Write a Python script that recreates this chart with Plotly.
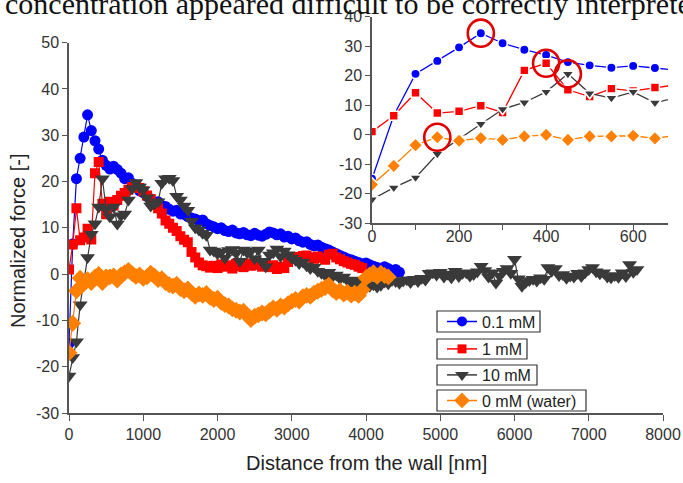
import plotly.graph_objects as go

# ---------------- data ----------------
STEP_NM = 50  # sampling step of the force profiles [nm]

series_names = ["0.1 mM", "1 mM", "10 mM", "0 mM (water)"]

force_01mM = [
    -15, 6.5, 20.6, 25, 29.6, 34.4, 31, 28.8, 27, 24.6,
    23.5, 22.7, 23.3, 22.6, 21.8, 20.6, 20.8, 19.6, 19.2, 18.0,
    17.6, 16.8, 16.3, 15.5, 15.6, 14.8, 14.6, 14.0, 13.6, 13.8,
    13.0, 12.9, 12.4, 12.1, 11.9, 11.5, 11.7, 10.9, 10.5, 10.2,
    9.8, 10.0, 9.4, 9.2, 9.5, 8.9, 8.7, 9.0, 8.5, 8.3,
    8.8, 8.4, 8.2, 8.6, 9.1, 8.9, 8.5, 8.7, 8.0, 8.2,
    7.6, 7.8, 7.2, 6.9, 7.0, 6.4, 6.1, 6.3, 5.8, 5.5,
    5.2, 4.8, 4.4, 4.0, 3.7, 3.3, 3.1, 2.8, 2.5, 2.2,
    2.4, 2.0, 1.7, 1.4, 1.1, 1.6, 1.2, 0.8, 1.0, 0.4,
]

force_1mM = [
    1, 6.4, 14.2, 7.3, 7.9, 9.8, 7.5, 21.8, 24.2, 15.2,
    12.9, 15.6, 14.8, 16.0, 16.9, 17.5, 18.2, 18.8, 19.3, 18.6,
    17.9, 17.0, 16.2, 15.0, 14.2, 13.1, 11.6, 10.9, 10.0, 9.3,
    8.2, 7.4, 6.9, 4.8, 3.6, 2.5, 1.9, 1.7, 1.4, 1.8,
    1.3, 2.1, 1.6, 1.9, 1.2, 2.2, 1.7, 1.5, 2.3, 1.8,
    2.0, 2.4, 1.6, 2.1, 1.5, 1.9, 1.1, 1.6, 1.3, 2.6,
    3.4, 3.7, 3.2, 3.9, 4.0, 3.6, 3.3, 3.8, 3.5, 3.1,
    4.2, 4.4, 3.6, 3.2, 2.8, 2.5, 2.2, 2.0, 1.6, 1.3,
]

force_10mM = [
    -22, -18, -14.6, -6.6, -1.5, 3.6, 8.6, 10.9, 14.5, 20.6,
    14.0, 12.4, 14.5, 10.8, 12.6, 13.0, 16.0, 18.5, 19.8, 18.8,
    18.2, 16.5, 14.7, 15.2, 15.6, 19.6, 20.6, 20.7, 20.2, 16.8,
    16.0, 14.7, 13.8, 11.4, 10.0, 9.5, 8.8, 8.4, 5.2, 5.0,
    4.4, 4.8, 3.5, 5.1, 5.3, 4.5, 2.8, 5.2, 4.6, 5.0,
    3.3, 5.2, 2.8, 1.6, 4.1, 4.6, 5.4, 3.8, 5.0, 4.2,
    3.5, 3.0, 2.3, 2.6, 1.8, 1.2, 1.5, 0.6, 0.2, -0.3,
    0.4, -0.5, -0.2, -1.0, -0.6, -1.4, -1.8, -1.3, -2.2, -2.5,
    -1.9, -2.6, -2.3, -2.8, -2.4, -1.7, -2.1, -1.4, -1.6, -2.0,
    -1.5, -1.2, -1.8, -1.1, -1.6, -0.9, -1.3, 0.2, 0.3, -0.2,
    0.4, -0.6, 0.0, -0.8, 0.6, -0.5, 0.2, 0.3, -0.4, -0.1,
    0.5, 1.7, 0.8, -0.6, 0.3, -1.9, -0.4, 0.6, 1.2, 0.2,
    3.2, -1.0, -2.6, -1.8, -1.4, -1.1, -1.5, -0.8, -1.1, 1.4,
    0.6, 1.2, -0.3, -0.1, -0.9, -0.4, -0.6, 0.2, -0.5, 0.3,
    1.0, 1.4, 0.5, 0.1, 0.3, -0.6, -0.8, -0.3, -0.7, 0.3,
    -0.5, 2.1, 0.4, 1.0,
]

force_water = [
    -17, -10.6, -3.6, -0.9, -2.1, -1.2, -1.8, -0.6, -0.1, -1.8,
    -0.6, -0.6, -0.4, -1.3, -0.2, 0.3, 0.8, 0.1, -0.5, -0.2,
    -0.9, -0.6, 0.2, -0.4, -1.2, -1.0, -1.8, -2.3, -2.6, -2.2,
    -3.1, -3.6, -3.2, -4.1, -4.8, -4.3, -4.6, -4.2, -5.0, -5.5,
    -5.2, -6.1, -6.6, -6.9, -7.5, -7.8, -8.2, -8.0, -8.9, -9.8,
    -9.1, -8.8, -8.4, -8.6, -7.9, -7.3, -7.6, -6.9, -7.1, -6.4,
    -5.9, -5.5, -5.8, -4.9, -4.6, -4.8, -4.1, -3.7, -3.3, -2.9,
    -2.4, -3.4, -4.0, -3.6, -4.3, -3.9, -4.5, -4.1, -4.6, -3.4,
    -0.8, -0.2, 0.3, -0.5, 0.2, -0.3, -0.6,
]

series_values = [force_01mM, force_1mM, force_10mM, force_water]

# highlighted (circled) points in the inset: (series index, distance nm)
highlight_points = [(0, 250), (1, 400), (2, 450), (3, 150)]

main_x_ticks = [0, 1000, 2000, 3000, 4000, 5000, 6000, 7000, 8000]
main_y_ticks = [-30, -20, -10, 0, 10, 20, 30, 40, 50]
inset_x_ticks = [0, 100, 200, 300, 400, 500, 600]
inset_x_labels = ["0", "", "200", "", "400", "", "600"]
inset_y_ticks = [-30, -20, -10, 0, 10, 20, 30, 40]
INSET_LAST_NM = 700

top_text = "concentration appeared difficult to be correctly interpreted"

# ---------------- style ----------------
colors = ["#0000ff", "#ff0000", "#3a3a3a", "#ff8000"]
symbols = ["circle", "square", "triangle-down", "diamond"]
main_sizes = [11, 10, 13, 13]
inset_sizes = [9.5, 9, 11, 11]
legend_sizes = [10, 9, 12, 12]
FONT = "Liberation Sans, Arial, sans-serif"
AXC = "#555555"
TXC = "#333333"

W, H = 683, 483
ML, MR, MT, MB = 69, 15, 16, 70
PW, PH = W - ML - MR, H - MT - MB


def px_x(px):
    return (px - ML) / PW


def px_y(py):
    return (H - MB - py) / PH


def dist(vals):
    return [i * STEP_NM for i in range(len(vals))]


fig = go.Figure()

# main traces
for name, vals, c, s, sz in zip(series_names, series_values, colors, symbols, main_sizes):
    fig.add_trace(go.Scatter(
        x=dist(vals), y=vals, mode="lines+markers", name=name,
        line=dict(color=c, width=1.2),
        marker=dict(symbol=s, size=sz, color=c, line=dict(width=0)),
        showlegend=False, xaxis="x", yaxis="y"))

# inset traces
for name, vals, c, s, sz in zip(series_names, series_values, colors, symbols, inset_sizes):
    d = dist(vals)
    n = sum(1 for v in d if v <= INSET_LAST_NM)
    fig.add_trace(go.Scatter(
        x=d[:n], y=vals[:n], mode="lines+markers", name=name,
        line=dict(color=c, width=1.3),
        marker=dict(symbol=s, size=sz, color=c, line=dict(width=1.6, color="white")),
        showlegend=False, xaxis="x2", yaxis="y2"))

# legend entries (one legend per series, each in its own frame)
legend_centers_px = [321.5, 349, 375, 400.5]
legend_frames_px = [(437, 540, 311, 332), (437, 527, 339, 359),
                    (437, 537, 365, 385), (437, 586, 390, 411)]
for i, (name, c, s, sz) in enumerate(zip(series_names, colors, symbols, legend_sizes)):
    lg = "legend" if i == 0 else f"legend{i+1}"
    fig.add_trace(go.Scatter(
        x=[None], y=[None], mode="lines+markers", name=name,
        line=dict(color=c, width=1.5),
        marker=dict(symbol=s, size=sz, color=c),
        showlegend=True, legend=lg, xaxis="x", yaxis="y"))

legend_common = dict(
    xanchor="left", yanchor="top", bgcolor="rgba(0,0,0,0)",
    borderwidth=0,
    font=dict(family=FONT, size=16, color="#222222"),
    tracegroupgap=0, itemwidth=30,
)
legend_layout = {}
for i, cy in enumerate(legend_centers_px):
    key = "legend" if i == 0 else f"legend{i+1}"
    legend_layout[key] = dict(x=px_x(442), y=px_y(cy - 17), **legend_common)

shapes = []
for (x0, x1, y0, y1) in legend_frames_px:
    shapes.append(dict(type="rect", xref="paper", yref="paper",
                       x0=px_x(x0), x1=px_x(x1), y0=px_y(y1), y1=px_y(y0),
                       fillcolor="white", line=dict(color="#333333", width=1.2),
                       layer="above"))

# highlight circles
RX_NM, RY_U = 30, 4.6
for si, xnm in highlight_points:
    yv = series_values[si][xnm // STEP_NM]
    shapes.append(dict(type="circle", xref="x2", yref="y2",
                       x0=xnm - RX_NM, x1=xnm + RX_NM, y0=yv - RY_U, y1=yv + RY_U,
                       line=dict(color="#e00000", width=2.6)))

axis_common = dict(showgrid=False, zeroline=False, showline=True, linecolor=AXC,
                   linewidth=1.5, ticks="outside", tickcolor=AXC, tickwidth=1.3,
                   automargin=False,
                   tickfont=dict(family=FONT, size=16, color=TXC))

fig.update_layout(
    width=W, height=H,
    autosize=False,
    margin=dict(l=ML, r=MR, t=MT, b=MB, autoexpand=False),
    paper_bgcolor="white", plot_bgcolor="rgba(0,0,0,0)",
    font=dict(family=FONT, color=TXC),
    xaxis=dict(domain=[0, px_x(663)], range=[0, 8000], tickvals=main_x_ticks,
               ticktext=[str(v) for v in main_x_ticks],
               ticklen=6, anchor="y", **axis_common),
    yaxis=dict(domain=[0, px_y(42.6)], range=[-30, 50], tickvals=main_y_ticks,
               ticktext=[str(v) for v in main_y_ticks],
               ticklen=5, anchor="x", **axis_common),
    xaxis2=dict(domain=[px_x(372), 1.0], range=[0, 680], tickvals=inset_x_ticks,
                ticktext=inset_x_labels, ticklen=5, anchor="y2",
                ticklabelstandoff=-7, **axis_common),
    yaxis2=dict(domain=[px_y(223), px_y(16.7)], range=[-30, 40], tickvals=inset_y_ticks,
                ticktext=[str(v) for v in inset_y_ticks],
                ticklen=5, anchor="x2", **axis_common),
    shapes=shapes,
    annotations=[
        dict(text="Distance from the wall [nm]", xref="paper", yref="paper",
             x=px_x(366), y=px_y(463), xanchor="center", yanchor="middle",
             showarrow=False, font=dict(family=FONT, size=20, color="#222222")),
        dict(text="Normalized force [-]", xref="paper", yref="paper",
             x=px_x(18), y=px_y(241), xanchor="center", yanchor="middle",
             textangle=-90, showarrow=False,
             font=dict(family=FONT, size=20, color="#222222")),
        dict(text=top_text, xref="paper", yref="paper",
             x=px_x(3), y=px_y(3.5), xanchor="left", yanchor="middle",
             showarrow=False,
             font=dict(family="Liberation Serif, Times New Roman, serif", size=30, color="#111111")),
    ],
    **legend_layout,
)

fig.write_html("out.html")
